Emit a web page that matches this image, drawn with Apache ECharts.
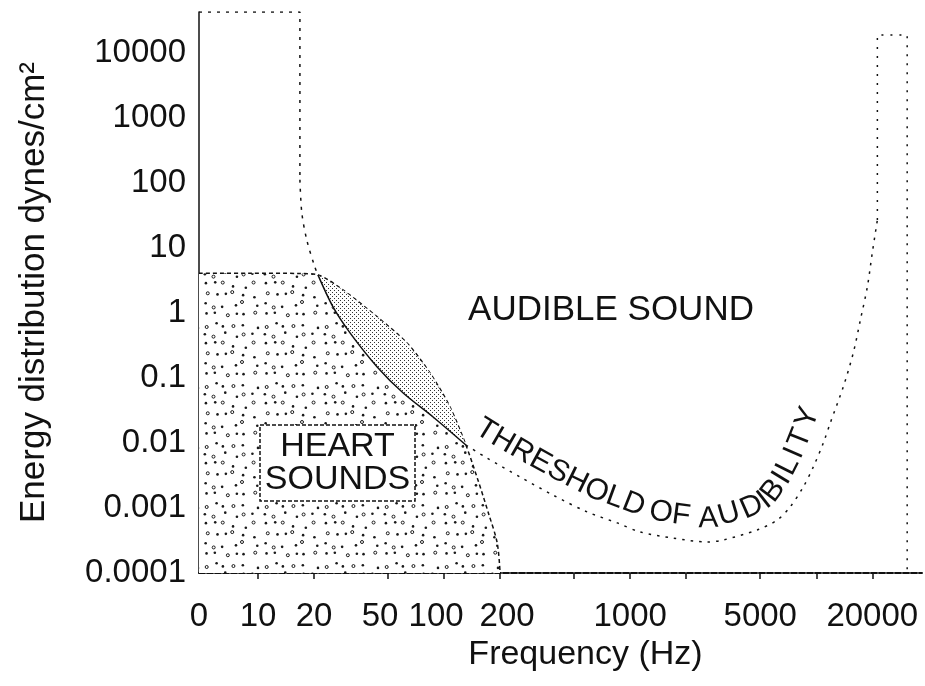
<!DOCTYPE html>
<html>
<head>
<meta charset="UTF-8">
<title>Heart sounds and the threshold of audibility</title>
<script src="https://cdn.jsdelivr.net/npm/echarts@6/dist/echarts.min.js"></script>
<style>
  html, body { margin: 0; padding: 0; background: #fff; }
  #chart { width: 925px; height: 686px; }
</style>
</head>
<body>
<div id="chart"></div>
<script>
// frequency in Hz, energy in dynes/cm2
const axisMinFreq = 4.82;     // left edge of the plot, labelled "0"
const axisMaxFreq = 37000;
const axisMinEnergy = 0.0001;
const axisMaxEnergy = 42660;

const tickFreqs = [10, 20, 50, 100, 200, 500, 1000, 2000, 5000, 10000, 20000];
const labelFreqs = [10, 20, 50, 100, 200, 1000, 5000, 20000];
const energyLabels = [0.0001, 0.001, 0.01, 0.1, 1, 10, 100, 1000, 10000];

// envelope of the heart sounds
const heartFreq = [4.82, 9, 16.8, 21, 28.6, 43.7, 63.2, 84.1, 107.6, 131, 152, 173, 193, 200];
const heartEnergy = [4.1, 4.1, 4.05, 3.85, 2.26, 0.87, 0.345, 0.119, 0.0358, 0.0093, 0.0027, 0.00084, 0.00029, 0.0001];
const lensFrom = 3, lensTo = 9;   // heart points between the two crossings

// infrasound block on the left
const leftBoxFreq = [4.82, 16.8, 16.8];
const leftBoxEnergy = [42660, 42660, 112];

// threshold of audibility
const thresholdFreq = [16.8, 17.2, 18.3, 20.2, 21, 25.3, 31.3, 43.7, 60.3, 87.3, 131,
  170, 256, 385, 587, 851, 1130, 1700, 2590, 3160, 4820, 6170, 7240, 8510, 9640, 10910,
  11890, 13960, 15810, 17260, 18810, 20000, 21300];
const thresholdEnergy = [112, 34.7, 13.2, 5.1, 3.85, 1.24, 0.49, 0.148, 0.0587, 0.0251, 0.0093,
  0.00587, 0.003, 0.00158, 0.00087, 0.00059, 0.000428, 0.000345, 0.0003, 0.000322, 0.000459,
  0.000654, 0.00104, 0.0021, 0.00428, 0.01, 0.0203, 0.0727, 0.243, 0.78, 2.51, 8.4, 27];
const solidFrom = 4, solidTo = 10;  // the stretch inside the heart sounds is drawn solid

// ultrasound block on the right
const rightBoxFreq = [21300, 21300, 30800, 30800];
const rightBoxEnergy = [27, 18900, 18900, 0.0001];

const FONT = '"Liberation Sans", Arial, sans-serif';
const INK = '#111';

const lg = Math.log10;
const pairs = (fs, es) => fs.map((f, i) => [lg(f), lg(es[i])]);

// stipple textures
function sparseDots() {
  const n = 6, step = 10, c = document.createElement('canvas');
  c.width = c.height = n * step;
  const g = c.getContext('2d');
  g.fillStyle = '#fff';
  g.fillRect(0, 0, c.width, c.height);
  g.fillStyle = '#1a1a1a';
  g.strokeStyle = '#1a1a1a';
  g.lineWidth = 1;
  for (let i = 0; i < n; i++) {
    for (let j = 0; j < n; j++) {
      const h = Math.abs(Math.sin(i * 12.99 + j * 78.23) * 43758.5) % 1;
      const k = Math.abs(Math.sin(i * 39.35 + j * 11.13) * 24634.6) % 1;
      const x = i * step + 2 + h * 6, y = j * step + 2 + k * 6;
      g.beginPath();
      if ((i + 2 * j) % 3 === 0) { g.arc(x, y, 1.5, 0, Math.PI * 2); g.stroke(); }
      else { g.arc(x, y, 1.3, 0, Math.PI * 2); g.fill(); }
    }
  }
  return c;
}

function denseDots() {
  const c = document.createElement('canvas');
  c.width = c.height = 4;
  const g = c.getContext('2d');
  g.fillStyle = '#fff';
  g.fillRect(0, 0, 4, 4);
  g.fillStyle = '#333';
  g.fillRect(0, 0, 1, 1);
  g.fillRect(2, 2, 1, 1);
  return c;
}

const sparse = { image: sparseDots(), repeat: 'repeat' };
const dense = { image: denseDots(), repeat: 'repeat' };

const lensPoints = pairs(heartFreq.slice(lensFrom, lensTo + 1), heartEnergy.slice(lensFrom, lensTo + 1))
  .concat(pairs(thresholdFreq.slice(solidFrom, solidTo + 1), thresholdEnergy.slice(solidFrom, solidTo + 1)).reverse());

const xMin = lg(axisMinFreq);

// the printed labels sit a little off some ticks; nudge those
const labelNudge = { 50: 'l', 100: 'l', 200: 'r' };

const chart = echarts.init(document.getElementById('chart'), null, { renderer: 'canvas' });

chart.setOption({
  animation: false,
  backgroundColor: '#fff',
  textStyle: { fontFamily: FONT, color: INK },
  grid: { left: 199, right: 3, top: 12, bottom: 113, outerBoundsMode: 'none' },
  xAxis: {
    type: 'value',
    min: xMin,
    max: lg(axisMaxFreq),
    name: 'Frequency (Hz)',
    nameLocation: 'middle',
    nameGap: 63,
    nameTextStyle: { fontSize: 34, color: INK, fontFamily: FONT, padding: [0, 0, 0, 50] },
    axisLine: { onZero: false, lineStyle: { color: INK, width: 2, type: [6, 2] } },
    axisTick: {
      customValues: tickFreqs.map(lg),
      length: 6,
      lineStyle: { color: INK, width: 1.5 }
    },
    axisLabel: {
      customValues: [xMin].concat(labelFreqs.map(lg)),
      formatter: v => {
        if (Math.abs(v - xMin) < 1e-9) return '0';
        const f = Math.round(Math.pow(10, v));
        return labelNudge[f] ? '{' + labelNudge[f] + '|' + f + '}' : String(f);
      },
      rich: {
        l: { fontSize: 33, color: INK, fontFamily: FONT, padding: [0, 16, 0, 0] },
        r: { fontSize: 33, color: INK, fontFamily: FONT, padding: [0, 0, 0, 14] }
      },
      fontSize: 33,
      color: INK,
      margin: 27
    },
    splitLine: { show: false }
  },
  yAxis: {
    type: 'value',
    min: lg(axisMinEnergy),
    max: lg(axisMaxEnergy),
    name: 'Energy distribution dynes/cm\u00b2',
    nameLocation: 'middle',
    nameGap: 147,
    nameTextStyle: { fontSize: 35, color: INK, fontFamily: FONT },
    axisLine: { show: true, onZero: false, lineStyle: { color: INK, width: 1.5 } },
    axisTick: { show: false },
    axisLabel: {
      customValues: energyLabels.map(lg),
      formatter: v => {
        const p = Math.round(v);
        return p >= 0 ? String(Math.pow(10, p)) : Math.pow(10, p).toFixed(-p);
      },
      fontSize: 33,
      color: INK,
      margin: 13
    },
    splitLine: { show: false }
  },
  series: [
    {
      name: 'heart sounds',
      type: 'line',
      data: pairs(heartFreq, heartEnergy),
      smooth: 0.3,
      symbol: 'none',
      z: 1,
      lineStyle: { color: INK, width: 1.5, type: [4, 3] },
      areaStyle: { color: sparse, opacity: 1, origin: 'start' }
    },
    {
      name: 'overlap',
      type: 'custom',
      coordinateSystem: 'cartesian2d',
      data: [lensPoints[0]],
      z: 2,
      renderItem: (params, api) => ({
        type: 'polygon',
        shape: { points: lensPoints.map(p => api.coord(p)) },
        style: { fill: dense, stroke: null }
      })
    },
    {
      name: 'infrasound',
      type: 'line',
      data: pairs(leftBoxFreq, leftBoxEnergy),
      symbol: 'none',
      z: 3,
      lineStyle: { color: INK, width: 1.5, type: [3, 6] }
    },
    {
      name: 'threshold',
      type: 'line',
      data: pairs(thresholdFreq.slice(0, solidFrom + 1), thresholdEnergy.slice(0, solidFrom + 1)),
      smooth: 0.3,
      symbol: 'none',
      z: 3,
      lineStyle: { color: INK, width: 1.5, type: [3, 6] }
    },
    {
      name: 'threshold solid',
      type: 'line',
      data: pairs(thresholdFreq.slice(solidFrom, solidTo + 1), thresholdEnergy.slice(solidFrom, solidTo + 1)),
      smooth: 0.3,
      symbol: 'none',
      z: 3,
      lineStyle: { color: INK, width: 1.5 }
    },
    {
      name: 'threshold high',
      type: 'line',
      data: pairs(thresholdFreq.slice(solidTo), thresholdEnergy.slice(solidTo)),
      smooth: 0.3,
      symbol: 'none',
      z: 3,
      lineStyle: { color: INK, width: 1.5, type: [2.5, 6] }
    },
    {
      name: 'ultrasound',
      type: 'line',
      data: pairs(rightBoxFreq, rightBoxEnergy),
      symbol: 'none',
      smooth: false,
      z: 3,
      lineStyle: { color: INK, width: 1.5, type: [2, 7], join: 'miter' }
    }
  ]
});

// lay "THRESHOLD OF AUDIBILITY" along the inside of the threshold curve;
// each piece is [text, spacing factor]
function curveText(pieces, font, gap, start) {
  const pts = pairs(thresholdFreq.slice(solidTo), thresholdEnergy.slice(solidTo))
    .map(p => chart.convertToPixel({ gridIndex: 0 }, p));
  const off = pts.map((p, i) => {
    const a = pts[Math.max(0, i - 1)], b = pts[Math.min(pts.length - 1, i + 1)];
    const dx = b[0] - a[0], dy = b[1] - a[1], len = Math.hypot(dx, dy);
    return [p[0] + dy / len * gap, p[1] - dx / len * gap];
  });
  const cum = [0];
  for (let i = 1; i < off.length; i++) {
    cum.push(cum[i - 1] + Math.hypot(off[i][0] - off[i - 1][0], off[i][1] - off[i - 1][1]));
  }
  const at = s => {
    let i = 1;
    while (i < cum.length - 1 && cum[i] < s) i++;
    const t = (s - cum[i - 1]) / (cum[i] - cum[i - 1]);
    return [off[i - 1][0] + (off[i][0] - off[i - 1][0]) * t, off[i - 1][1] + (off[i][1] - off[i - 1][1]) * t];
  };
  const ctx = document.createElement('canvas').getContext('2d');
  ctx.font = font;
  const els = [];
  let s = start;
  pieces.forEach(([text, spacing]) => {
    for (const ch of text) {
      const w = ctx.measureText(ch).width * spacing;
      const mid = s + w / 2;
      const p = at(mid), p1 = at(mid - 8), p2 = at(mid + 8);
      const ang = Math.atan2(p2[1] - p1[1], p2[0] - p1[0]);
      if (ch !== ' ') {
        els.push({
          type: 'text', x: p[0], y: p[1], rotation: -ang, z: 100, silent: true,
          style: { text: ch, font: font, fill: INK, align: 'center', verticalAlign: 'bottom' }
        });
      }
      s += w;
    }
  });
  return els;
}

chart.setOption({
  graphic: [
    {
      type: 'text', x: 611, y: 310, z: 100, silent: true,
      style: { text: 'AUDIBLE SOUND', font: '35px ' + FONT, fill: INK, align: 'center', verticalAlign: 'middle' }
    },
    {
      type: 'rect', z: 100, silent: true,
      shape: { x: 260, y: 425, width: 155, height: 76 },
      style: { fill: '#fff', stroke: INK, lineWidth: 1.5, lineDash: [4, 2] }
    },
    {
      type: 'text', x: 337.5, y: 463.5, z: 101, silent: true,
      style: { text: 'HEART\nSOUNDS', font: '34px ' + FONT, fill: INK, align: 'center', verticalAlign: 'middle', lineHeight: 33 }
    }
  ].concat(curveText([['THRESHOLD OF ', 1.02], ['AUDIBILITY', 1.2]], '30px ' + FONT, 8, 0))
});
</script>
</body>
</html>
